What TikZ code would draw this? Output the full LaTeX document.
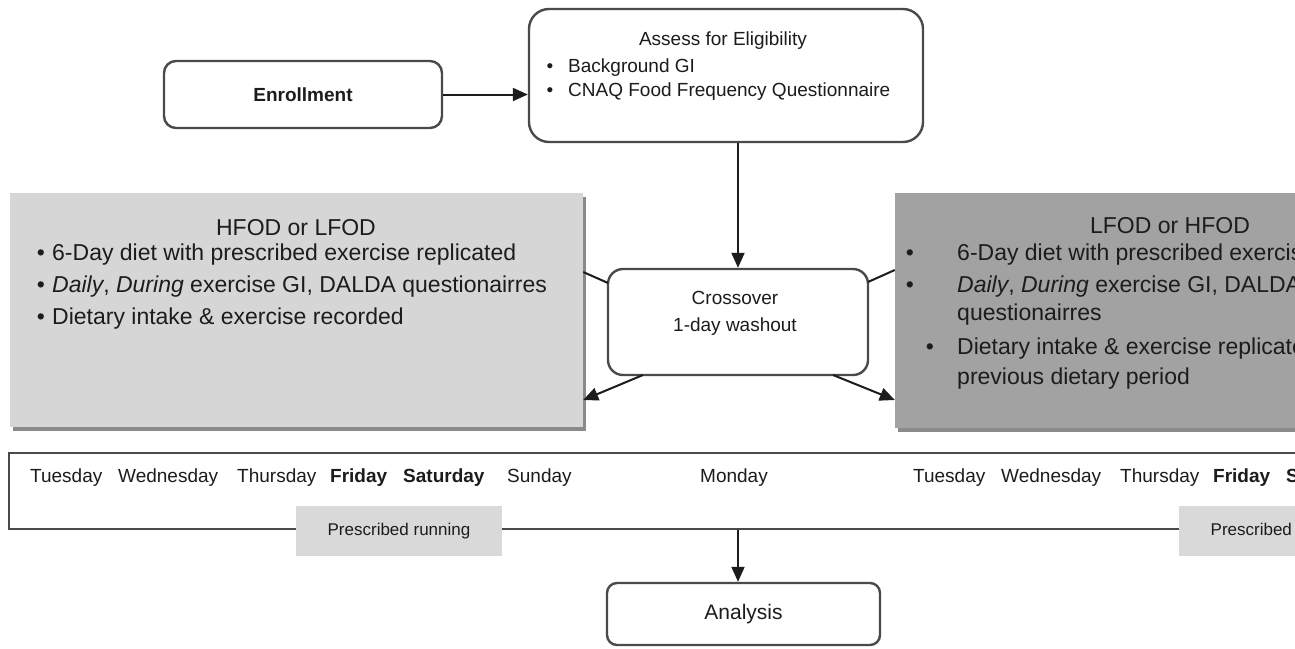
\documentclass[tikz,border=0pt]{standalone}
\usepackage{fontspec}
\setmainfont{Liberation Sans}
\usetikzlibrary{arrows.meta,calc,shadows}
\definecolor{bord}{HTML}{4A4A4A}
\definecolor{ink}{HTML}{1C1C1C}
\definecolor{lgrey}{HTML}{D6D6D6}
\definecolor{dgrey}{HTML}{A2A2A2}
\definecolor{shad}{HTML}{8A8A8A}
\definecolor{prun}{HTML}{D9D9D9}
\begin{document}
\begin{tikzpicture}[x=1pt,y=-1pt,
  box/.style={draw=bord, line width=2.4pt, fill=white, inner sep=0pt, text=ink},
  arr/.style={draw=ink, line width=2pt, -{Triangle[length=15pt,width=13pt]}},
  ln/.style={draw=ink, line width=2pt},
  txt/.style={inner sep=0pt, text=ink, text height=0.75em, text depth=0.2em},
  fa/.style={font=\fontsize{19}{23}\selectfont},
  fb/.style={font=\fontsize{23}{28}\selectfont},
  fc/.style={font=\fontsize{17}{20}\selectfont},
  fd/.style={font=\fontsize{21}{25}\selectfont},
  panel/.style={inner sep=0pt, drop shadow={shadow xshift=3pt, shadow yshift=-4pt, fill=shad, opacity=1}},
  runbox/.style={fill=prun, inner sep=0pt, minimum width=206pt, minimum height=50pt, text=ink, font=\fontsize{17}{20}\selectfont}
]
\useasboundingbox (0,0) rectangle (1295,648);
\clip (0,0) rectangle (1295,648);
\fill[white] (0,0) rectangle (1295,648);

% top row
\node[box, rounded corners=12pt, minimum width=278pt, minimum height=67pt, fa] (enroll) at (303,94.5) {\bfseries Enrollment};
\node[box, rounded corners=20pt, minimum width=394pt, minimum height=133pt] (assess) at (726,75.5) {};
\node[txt, fa] (assessT) at (723,43) {Assess for Eligibility};
\node[txt, fa] (ab1) at (550,70) {•};
\node[txt, fa, anchor=west] (at1) at (568,70) {Background GI};
\node[txt, fa] (ab2) at (550,94) {•};
\node[txt, fa, anchor=west] (at2) at (568,94) {CNAQ Food Frequency Questionnaire};

% panels
\node[panel, fill=lgrey, minimum width=573pt, minimum height=234pt] (lbox) at (296.5,310) {};
\node[panel, fill=dgrey, minimum width=550pt, minimum height=235pt] (rbox) at (1170,310.5) {};

\node[txt, fb] (lT) at (296,233) {HFOD or LFOD};
\node[txt, fb] (lb1) at (41,258) {•};
\node[txt, fb, anchor=west] (lt1) at (52,258) {6-Day diet with prescribed exercise replicated};
\node[txt, fb] (lb2) at (41,290) {•};
\node[txt, fb, anchor=west] (lt2) at (52,290) {\textit{Daily}, \textit{During} exercise GI, DALDA questionairres};
\node[txt, fb] (lb3) at (41,322) {•};
\node[txt, fb, anchor=west] (lt3) at (52,322) {Dietary intake \& exercise recorded};

\node[txt, fb] (rT) at (1170,231) {LFOD or HFOD};
\node[txt, fb] (rb1) at (910,258) {•};
\node[txt, fb, anchor=west] (rt1) at (957,258) {6-Day diet with prescribed exercise replicated};
\node[txt, fb] (rb2) at (910,290) {•};
\node[txt, fb, anchor=west] (rt2) at (957,290) {\textit{Daily}, \textit{During} exercise GI, DALDA};
\node[txt, fb, anchor=west] (rt2b) at (957,318) {questionairres};
\node[txt, fb] (rb3) at (930,352) {•};
\node[txt, fb, anchor=west] (rt3) at (957,352) {Dietary intake \& exercise replicated};
\node[txt, fb, anchor=west] (rt3b) at (957,382) {previous dietary period};

% crossover
\node[box, rounded corners=15pt, minimum width=260pt, minimum height=106pt] (cross) at (738,322) {};
\node[txt, fa, align=center] (crossT) at (735,302) {Crossover};
\node[txt, fa, align=center] (crossT2) at (735,329) {1-day washout};

% timeline
\node[draw=bord, line width=2.4pt, inner sep=0pt, minimum width=1320pt, minimum height=76pt] (timeline) at (669,491) {};
\node[runbox] (run1) at (399,531) {Prescribed running};
\node[runbox] (run2) at (1282,531) {Prescribed running};

\node[txt, fa, anchor=west] (d1) at (30,480) {Tuesday};
\node[txt, fa, anchor=west] (d2) at (118,480) {Wednesday};
\node[txt, fa, anchor=west] (d3) at (237,480) {Thursday};
\node[txt, fa, anchor=west] (d4) at (330,480) {\bfseries Friday};
\node[txt, fa, anchor=west] (d5) at (403,480) {\bfseries Saturday};
\node[txt, fa, anchor=west] (d6) at (507,480) {Sunday};
\node[txt, fa] (d7) at (734,480) {Monday};
\node[txt, fa, anchor=west] (d8) at (913,480) {Tuesday};
\node[txt, fa, anchor=west] (d9) at (1001,480) {Wednesday};
\node[txt, fa, anchor=west] (d10) at (1120,480) {Thursday};
\node[txt, fa, anchor=west] (d11) at (1213,480) {\bfseries Friday};
\node[txt, fa, anchor=west] (d12) at (1286,480) {\bfseries Saturday};

% analysis
\node[box, rounded corners=10pt, minimum width=273pt, minimum height=62pt, fd] (analysis) at (743.5,614) {Analysis};

% connectors
\draw[arr] (enroll.east) -- (enroll.east -| assess.west);
\draw[arr] (assess.south -| cross.north) -- (cross.north);
\coordinate (cl1) at (lbox.east |- 0,272);
\coordinate (cl2) at (608,283);
\coordinate (cr1) at (rbox.west |- 0,270);
\coordinate (cr2) at (868,282);
\draw[ln] (cl1) -- (cl2);
\draw[ln] (cr2) -- (cr1);
\coordinate (cb1) at (643,375);
\coordinate (cb2) at (833,375);
\coordinate (lin) at (lbox.east |- 0,400);
\coordinate (rin) at (rbox.west |- 0,400);
\draw[arr] (cb1) -- (lin);
\draw[arr] (cb2) -- (rin);
\draw[arr] (cross.south |- timeline.south) -- (cross.south |- analysis.north);
\end{tikzpicture}
\end{document}
